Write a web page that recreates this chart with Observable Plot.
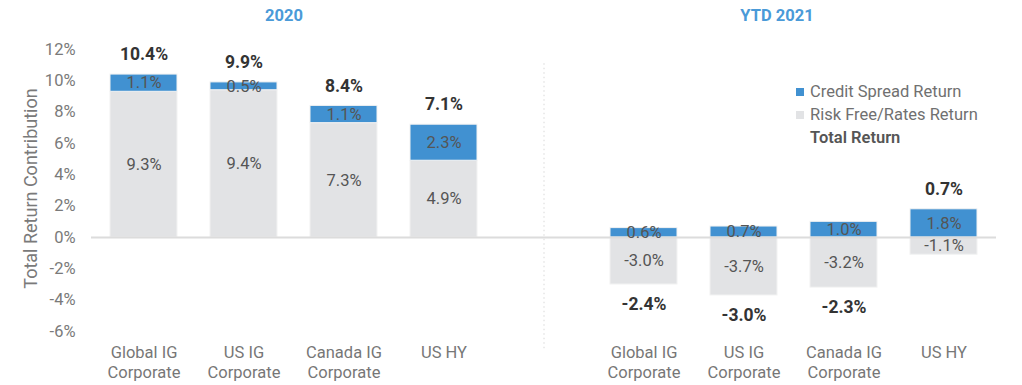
<!DOCTYPE html>
<html>
<head>
<meta charset="utf-8">
<script src="https://cdn.jsdelivr.net/npm/d3@7"></script>
<script src="https://cdn.jsdelivr.net/npm/@observablehq/plot@0.6"></script>
<style>
  html, body { margin: 0; padding: 0; background: #fff; }
  #wrap { position: relative; width: 1022px; height: 385px; font-family: Roboto, "Noto Sans", sans-serif; }
  #chart { position: absolute; left: 0; top: 0; }
  .title { position: absolute; top: 6px; color: #4a9ad8; font-weight: 700; font-size: 16.5px; transform: translateX(-50%); white-space: nowrap; }
  .legend { position: absolute; left: 796px; top: 80px; font-size: 16.5px; color: #707070; }
  .legend div { height: 23px; line-height: 23px; display: flex; align-items: center; white-space: nowrap; }
  .sw { display: inline-block; width: 8px; height: 8px; margin-right: 6px; }
  .total { color: #555; font-weight: 600; padding-left: 14px; }
</style>
</head>
<body>
<div id="wrap">
  <div id="chart"></div>
  <div class="title" style="left:284px">2020</div>
  <div class="title" style="left:777px">YTD 2021</div>
  <div class="legend" id="legend"></div>
</div>
<script>
// ---- data ----
const periods = ["2020", "YTD 2021"];
const categories = ["Global IG\nCorporate", "US IG\nCorporate", "Canada IG\nCorporate", "US HY"];
const ratesReturn = {
  "2020": [9.3, 9.4, 7.3, 4.9],
  "YTD 2021": [-3.0, -3.7, -3.2, -1.1]
};
const creditReturn = {
  "2020": [1.1, 0.5, 1.1, 2.3],
  "YTD 2021": [0.6, 0.7, 1.0, 1.8]
};
const totalReturn = {
  "2020": [10.4, 9.9, 8.4, 7.1],
  "YTD 2021": [-2.4, -3.0, -2.3, 0.7]
};
const yTicks = [-6, -4, -2, 0, 2, 4, 6, 8, 10, 12];
const seriesNames = ["Credit Spread Return", "Risk Free/Rates Return", "Total Return"];
const colors = { "Credit Spread Return": "#4191d1", "Risk Free/Rates Return": "#e2e3e5" };

// ---- build table ----
const GAP = "gap";
const keys = [];
periods.forEach((p, pi) => {
  categories.forEach(c => keys.push(p + "|" + c));
  if (pi === 0) keys.push(GAP);
});
const labelOf = k => (k === GAP ? "" : k.split("|")[1]);

const segs = [];
const totals = [];
periods.forEach(p => {
  categories.forEach((c, i) => {
    const key = p + "|" + c;
    const r = ratesReturn[p][i], cr = creditReturn[p][i], t = totalReturn[p][i];
    segs.push({ key, series: "Risk Free/Rates Return", value: r, order: 0 });
    segs.push({ key, series: "Credit Spread Return", value: cr, order: 1 });
    const pos = (r > 0 ? r : 0) + (cr > 0 ? cr : 0);
    const neg = (r < 0 ? r : 0) + (cr < 0 ? cr : 0);
    totals.push({ key, total: t, anchor: t >= 0 ? pos : neg });
  });
});

const fmt = v => v.toFixed(1) + "%";
const font = "Roboto, 'Noto Sans', sans-serif";

const plot = Plot.plot({
  width: 1022,
  height: 385,
  marginTop: 49,
  marginBottom: 54,
  marginLeft: 91,
  marginRight: 26,
  style: { fontFamily: font, fontSize: "16px", color: "#777", background: "transparent" },
  x: { domain: keys, paddingInner: 0.33, paddingOuter: 0.165, axis: null },
  y: { domain: [-6, 12], axis: null },
  color: { domain: Object.keys(colors), range: Object.values(colors) },
  marks: [
    Plot.axisY({ ticks: yTicks, tickSize: 0, tickPadding: 16, tickFormat: d => d + "%",
      fontSize: 16.5, fill: "#7a7a7a", label: null }),
    Plot.text(["Total Return Contribution"], { frameAnchor: "left", textAnchor: "middle",
      dx: -60, dy: -2, rotate: -90, fontSize: 18, fill: "#7a7a7a", text: d => d }),
    Plot.ruleX([GAP], { x: d => d, y1: -7.1, y2: 11.2, stroke: "#d8d8d8", strokeDasharray: "1.5,3", strokeWidth: 1 }),
    Plot.barY(segs, Plot.stackY({ x: "key", y: "value", z: "series", order: "order",
      fill: "series", stroke: "#f2f2f2", strokeWidth: 1 })),
    Plot.ruleY([0], { stroke: "#dcdcdc", strokeWidth: 2 }),
    Plot.text(segs, Plot.stackY({ x: "key", y: "value", z: "series", order: "order",
      text: d => fmt(d.value), fill: "#555", fontSize: 16.5 })),
    Plot.text(totals, { x: "key", y: "anchor", text: d => fmt(d.total),
      fill: "#333", fontWeight: 700, fontSize: 17.5,
      filter: d => d.total >= 0, dy: -20 }),
    Plot.text(totals, { x: "key", y: "anchor", text: d => fmt(d.total),
      fill: "#333", fontWeight: 700, fontSize: 17.5,
      filter: d => d.total < 0, dy: 20 }),
    Plot.text(keys.filter(k => k !== GAP), { x: d => d, text: labelOf, frameAnchor: "bottom",
      lineAnchor: "top", dy: 12, lineHeight: 1.22, fontSize: 16.5, fill: "#777" })
  ]
});
document.getElementById("chart").appendChild(plot);

// ---- legend ----
const leg = document.getElementById("legend");
seriesNames.forEach(name => {
  const row = document.createElement("div");
  if (colors[name]) {
    const sw = document.createElement("span");
    sw.className = "sw";
    sw.style.background = colors[name];
    row.appendChild(sw);
    row.appendChild(document.createTextNode(name));
  } else {
    const t = document.createElement("span");
    t.className = "total";
    t.textContent = name;
    row.appendChild(t);
  }
  leg.appendChild(row);
});
</script>
</body>
</html>
